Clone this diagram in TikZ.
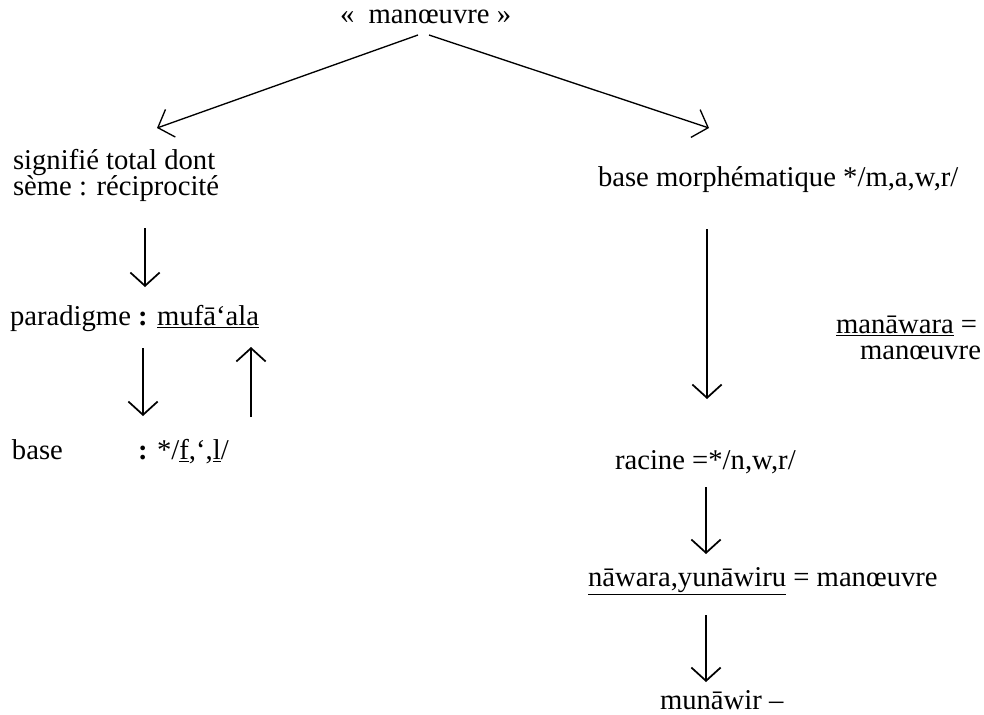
\documentclass[tikz,border=0pt]{standalone}
\usepackage{fontspec}
\setmainfont{Liberation Serif}
\usetikzlibrary{arrows.meta}
\begin{document}
\begin{tikzpicture}[x=0.75pt,y=-0.75pt,
  lbl/.style={inner sep=0pt,outer sep=0pt,font=\fontsize{21.5}{24}\selectfont,anchor=base west},
  arr/.style={line width=1.5pt,-{Straight Barb[length=10pt,width=22pt,line width=1.3pt]}},
  diag/.style={line width=1pt,-{Straight Barb[length=10pt,width=22pt,line width=1pt]}}]
\useasboundingbox (0,0) rectangle (984,714);
\fill[white] (0,0) rectangle (984,714);
% nodes
\node[lbl] (top) at (340,23) {«\ \ manœuvre »};
\node[lbl] (sig1) at (13,169) {signifié total dont};
\node[lbl] (sig2) at (13,195) {sème : réciprocité};
\node[lbl] (par) at (10,325) {paradigme \textbf{:} \underline{mufā‘ala}};
\node[lbl] (base) at (12,459) {base};
\node[lbl] (basev) at (138,459) {\textbf{:} */\underline{f},‘,\underline{l}/};
\node[lbl] (bm) at (598,186) {base morphématique */m,a,w,r/};
\node[lbl] (man1) at (836,333) {\underline{manāwara} =};
\node[lbl] (man2) at (860,359) {manœuvre};
\node[lbl] (rac) at (615,469) {racine =*/n,w,r/};
\node[lbl] (naw) at (588,586) {\underline{nāwara,yunāwiru} = manœuvre};
\node[lbl] (mun) at (660,709) {munāwir –};
% connector endpoints
\coordinate (tL) at (418,35);
\coordinate (tR) at (429,35);
\coordinate (eL) at (157,128);
\coordinate (eR) at (709,128);
\coordinate (a1s) at (145,228); \coordinate (a1e) at (145,287);
\coordinate (a2s) at (143,348); \coordinate (a2e) at (143,416);
\coordinate (a3s) at (251,417); \coordinate (a3e) at (251,347);
\coordinate (a4s) at (707,229); \coordinate (a4e) at (707,399);
\coordinate (a5s) at (706,487); \coordinate (a5e) at (706,554);
\coordinate (a6s) at (706,615); \coordinate (a6e) at (706,682);
% connectors
\draw[diag] (tL) -- (eL);
\draw[diag] (tR) -- (eR);
\draw[arr] (a1s) -- (a1e);
\draw[arr] (a2s) -- (a2e);
\draw[arr] (a3s) -- (a3e);
\draw[arr] (a4s) -- (a4e);
\draw[arr] (a5s) -- (a5e);
\draw[arr] (a6s) -- (a6e);
\end{tikzpicture}
\end{document}
